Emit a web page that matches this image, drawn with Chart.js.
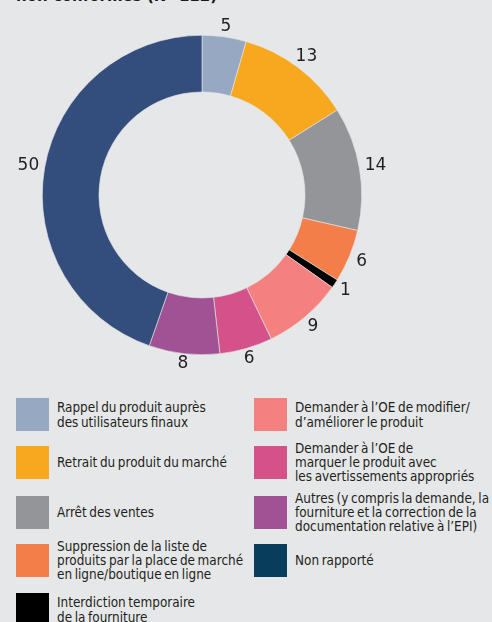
<!DOCTYPE html>
<html><head><meta charset="utf-8">
<script src="https://cdn.jsdelivr.net/npm/chart.js@4/dist/chart.umd.min.js"></script>
<style>
html,body{margin:0;padding:0;background:#e6e7e8;width:492px;height:622px;overflow:hidden;position:relative;}
#wrap{position:absolute;left:0;top:0;width:404px;height:390px;}
#title{position:absolute;left:16px;top:-11px;font:bold 15px 'DejaVu Sans';line-height:15px;color:#1a1a1a;white-space:nowrap;}
.item{position:absolute;display:flex;align-items:center;height:33px;}
.box{width:33px;height:33px;flex:none;}
.txt{margin-left:8px;font:13.4px 'DejaVu Sans Condensed';word-spacing:-1.2px;color:#231f20;white-space:nowrap;}
.l2{line-height:15px;}
.l3{line-height:14px;}
</style>
</head><body>
<div id="title">non conformes (N=112)</div>
<div id="wrap"><canvas id="c"></canvas></div>
<div id="legend"></div>
<script>
const categories = [
  ["Rappel du produit auprès","des utilisateurs finaux"],
  ["Retrait du produit du marché"],
  ["Arrêt des ventes"],
  ["Suppression de la liste de","produits par la place de marché","en ligne/boutique en ligne"],
  ["Interdiction temporaire","de la fourniture"],
  ["Demander à l’OE de modifier/","d’améliorer le produit"],
  ["Demander à l’OE de","marquer le produit avec","les avertissements appropriés"],
  ["Autres (y compris la demande, la","fourniture et la correction de la","documentation relative à l’EPI)"],
  ["Non rapporté"]
];
const values = [5, 13, 14, 6, 1, 9, 6, 8, 50];
const sliceColors = ["#97a8c3","#f8a81f","#939598","#f37e4a","#000000","#f48080","#d4518a","#a05294","#334d7c"];
const legendColors = ["#97a8c3","#f8a81f","#939598","#f37e4a","#000000","#f48080","#d4518a","#a05294","#083d5c"];

const valueLabels = {
  id: 'valueLabels',
  afterDatasetsDraw(chart) {
    const ctx = chart.ctx;
    const meta = chart.getDatasetMeta(0);
    ctx.save();
    ctx.font = '17px "DejaVu Sans"';
    ctx.fillStyle = '#231f20';
    ctx.textAlign = 'center';
    ctx.textBaseline = 'middle';
    meta.data.forEach((arc, i) => {
      const p = arc.getProps(['startAngle','endAngle','outerRadius','x','y'], true);
      const a = (p.startAngle + p.endAngle) / 2;
      const txt = String(values[i]);
      const w = ctx.measureText(txt).width;
      const r = p.outerRadius + 10 + (w/2)*Math.abs(Math.cos(a))*0.6;
      ctx.fillText(txt, p.x + Math.cos(a)*r, p.y + Math.sin(a)*r);
    });
    ctx.restore();
  }
};

new Chart(document.getElementById('c'), {
  type: 'doughnut',
  data: {
    labels: categories.map(l => l.join(' ')),
    datasets: [{
      data: values,
      backgroundColor: sliceColors,
      borderColor: '#e6e7e8',
      borderWidth: 0.6
    }]
  },
  options: {
    responsive: true,
    maintainAspectRatio: false,
    animation: false,
    cutout: '64.5%',
    layout: { padding: 35 },
    plugins: { legend: { display: false }, tooltip: { enabled: false } }
  },
  plugins: [valueLabels]
});

const rowsTop = [398, 446, 496, 544, 593];
const legend = document.getElementById('legend');
categories.forEach((lines, i) => {
  const col = i < 5 ? 0 : 1;
  const row = i < 5 ? i : i - 5;
  const item = document.createElement('div');
  item.className = 'item';
  item.style.left = (col === 0 ? 16 : 254) + 'px';
  item.style.top = rowsTop[row] + 'px';
  const box = document.createElement('div');
  box.className = 'box';
  box.style.background = legendColors[i];
  const t = document.createElement('div');
  t.className = 'txt ' + (lines.length > 2 ? 'l3' : 'l2');
  t.innerHTML = lines.join('<br>');
  item.appendChild(box); item.appendChild(t);
  legend.appendChild(item);
});
</script>
</body></html>
